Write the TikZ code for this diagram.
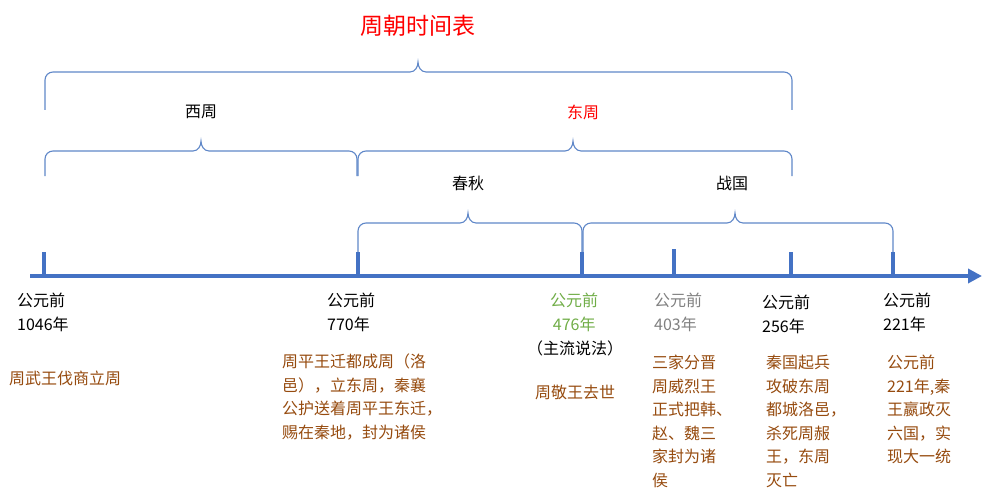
\documentclass[tikz,border=0pt]{standalone}
\usepackage{fontspec}
\setmainfont{Noto Sans CJK SC}
\usetikzlibrary{arrows.meta}
\definecolor{axisblue}{RGB}{68,114,196}
\definecolor{brown}{RGB}{150,75,15}
\definecolor{grn}{RGB}{112,173,71}
\definecolor{gry}{RGB}{128,128,128}
\definecolor{brc}{RGB}{95,135,200}
\tikzset{
 txt/.style={anchor=north west,align=left,font=\fontsize{16}{23.5}\selectfont,inner sep=0pt},
 lbl/.style={font=\fontsize{16}{18}\selectfont,inner sep=0pt},
 tick/.style={axisblue,line width=4.5pt},
 brace/.style={brc,line width=1.1pt}
}
\newcommand{\brc}[5]{% x1 x2 xm ytop ybottom
 \draw[brace] (#1,#5) -- (#1,#4+8) to[out=90,in=180] (#1+8,#4) -- (#3-8,#4) to[out=0,in=270] (#3,#4-10) to[out=270,in=180] (#3+8,#4) -- (#2-8,#4) to[out=0,in=90] (#2,#4+8) -- (#2,#5);}
\begin{document}
\begin{tikzpicture}[x=1pt,y=-1pt]
\useasboundingbox (0,0) rectangle (985,500);
\node[font=\fontsize{23}{26}\selectfont,text=red] (title) at (418,26) {周朝时间表};
\brc{45}{792}{418}{72}{110}
\node[lbl] (xz) at (201,112) {西周};
\node[lbl,text=red] (dz) at (583,112) {东周};
\brc{45}{357}{201}{151}{176}
\brc{358}{792}{573}{151}{176}
\node[lbl] (cq) at (468,183) {春秋};
\node[lbl] (zg) at (732,183) {战国};
\brc{358}{582}{468}{223}{252}
\brc{583}{893}{735}{223}{252}
\coordinate (a0) at (30,276);
\coordinate (a1) at (982,276);
\draw[axisblue,line width=4pt,-{Triangle[length=14pt,width=14pt]}] (a0) -- (a1);
\foreach \x/\t in {44/252,358/252,582/252,674/249,791/252,893/252}
 \draw[tick] (\x,\t) -- (\x,276);
\node[txt] (d1) at (17,293) {公元前\\1046年};
\node[txt] (d2) at (327,293) {公元前\\770年};
\node[txt,text=grn,align=center] (d3) at (550,293) {公元前\\476年};
\node[txt] (d3b) at (527,341) {（主流说法）};
\node[txt,text=gry] (d4) at (654,293) {公元前\\403年};
\node[txt] (d5) at (762,295) {公元前\\256年};
\node[txt] (d6) at (883,293) {公元前\\221年};
\node[txt,text=brown] (e1) at (9,371) {周武王伐商立周};
\node[txt,text=brown] (e2) at (282,354) {周平王迁都成周（洛\\邑），立东周，秦襄\\公护送着周平王东迁，\\赐在秦地，封为诸侯};
\node[txt,text=brown] (e3) at (535,385) {周敬王去世};
\node[txt,text=brown] (e4) at (652,355) {三家分晋\\周威烈王\\正式把韩、\\赵、魏三\\家封为诸\\侯};
\node[txt,text=brown] (e5) at (766,355) {秦国起兵\\攻破东周\\都城洛邑，\\杀死周赧\\王，东周\\灭亡};
\node[txt,text=brown] (e6) at (887,355) {公元前\\221年,秦\\王嬴政灭\\六国，实\\现大一统};
\end{tikzpicture}
\end{document}
